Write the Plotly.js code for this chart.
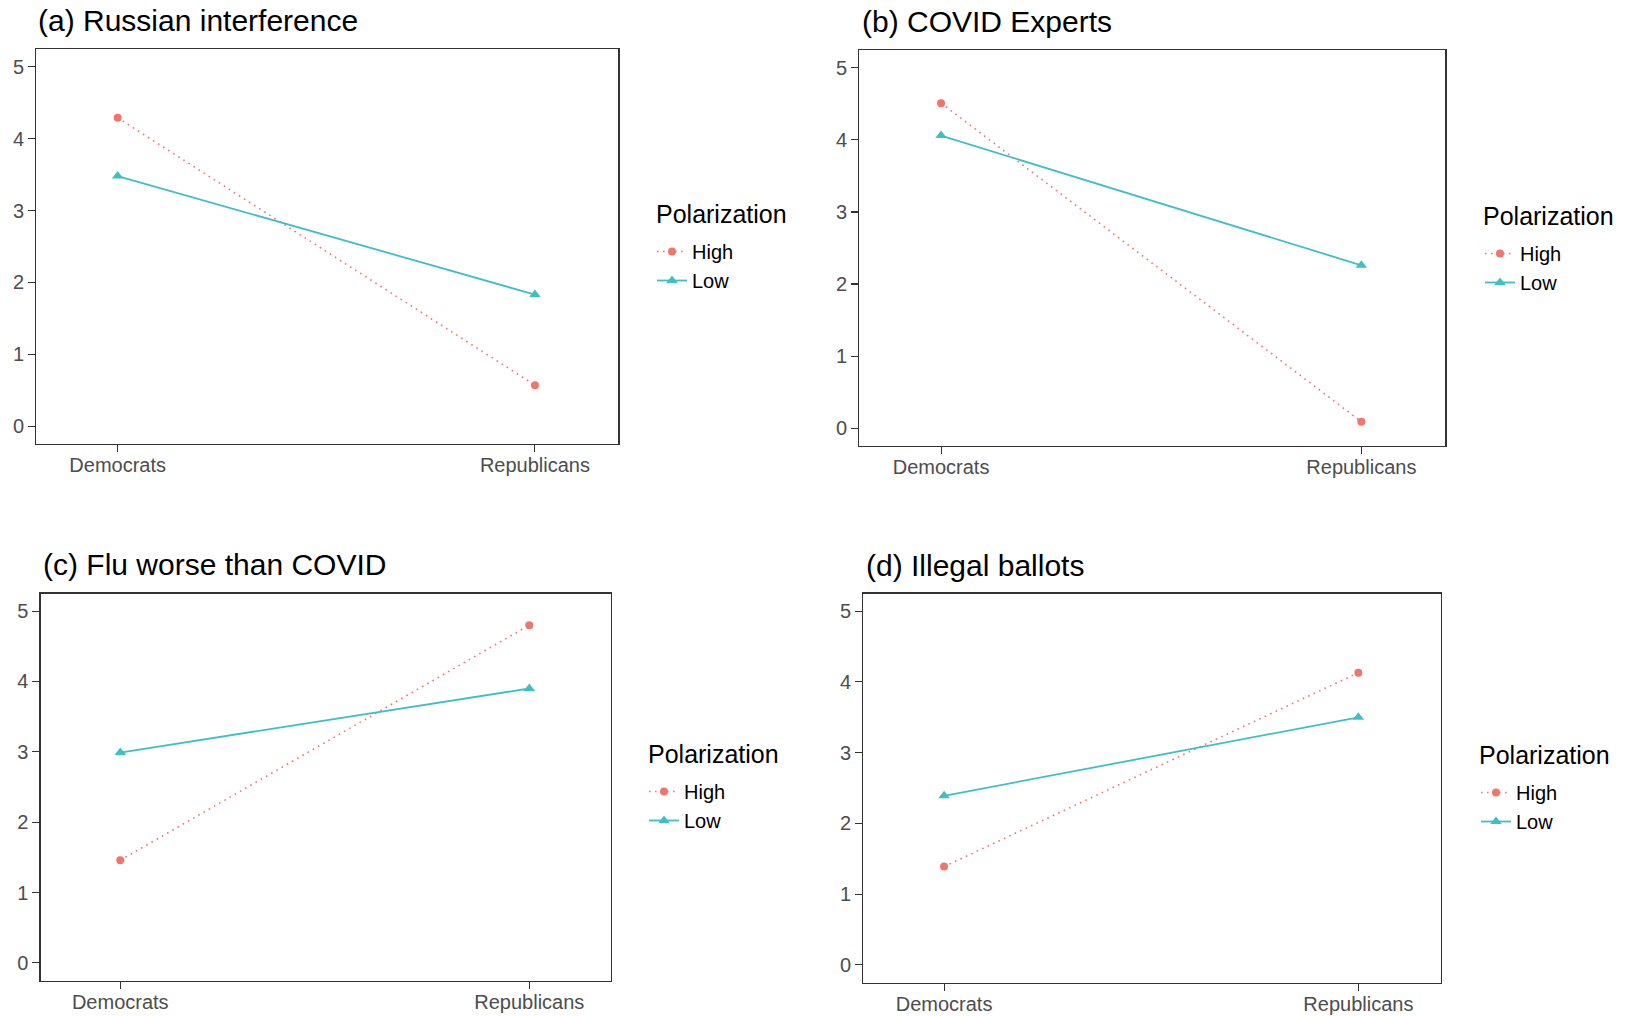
<!DOCTYPE html>
<html>
<head>
<meta charset="utf-8">
<script src="https://cdn.plot.ly/plotly-3.0.1.min.js"></script>
<style>
  html, body { margin: 0; padding: 0; background: #fff; }
  #chart { width: 1627px; height: 1016px; }
</style>
</head>
<body>
<div id="chart"></div>
<script>
// ---- Data ----
const categories = ['Democrats', 'Republicans'];
const panelTitles = ['(a) Russian interference', '(b) COVID Experts', '(c) Flu worse than COVID', '(d) Illegal ballots'];
const legendTitle = 'Polarization';
const seriesNames = ['High', 'Low'];
const yTickValues = [0, 1, 2, 3, 4, 5];

const highA = [4.29, 0.57];
const lowA  = [3.48, 1.83];
const highB = [4.51, 0.09];
const lowB  = [4.06, 2.26];
const highC = [1.46, 4.80];
const lowC  = [2.99, 3.90];
const highD = [1.39, 4.13];
const lowD  = [2.39, 3.50];

const highSets = [highA, highB, highC, highD];
const lowSets  = [lowA, lowB, lowC, lowD];

// ---- Styling / layout ----
const RED = '#F0766D';
const TEAL = '#3FBFC4';
const FONT = 'Liberation Sans, Arial, Helvetica, sans-serif';
const W = 1627, H = 1016;

// plot boxes in pixels [left, right, top, bottom]
const boxes = [
  [36.3, 618.4, 48.8, 444.1],
  [859.1, 1445.4, 49.8, 446.2],
  [40.5, 611.1, 593.5, 980.5],
  [863.3, 1441.2, 593.5, 982.6]
];
// title positions (left x, center y) px
const titlePos = [[36, 21], [860, 22], [40.5, 564.5], [864, 565.5]];
// legend title positions (left x, center y) px
const legTitlePos = [[654, 214], [1481, 216], [646, 754], [1477, 755]];
// legend positions (left x, top y) px
const legendPos = [[652, 232], [1480, 234], [644, 772], [1476, 773]];

const traces = [];
const layout = {
  width: W, height: H,
  margin: {l: 0, r: 0, t: 0, b: 0},
  paper_bgcolor: '#fff',
  plot_bgcolor: '#fff',
  font: {family: FONT, color: '#000'},
  annotations: [],
  hovermode: false
};

for (let i = 0; i < 4; i++) {
  const n = i === 0 ? '' : String(i + 1);
  const xa = 'x' + n, ya = 'y' + n;
  const lg = 'legend' + n;
  const [l, r, t, b] = boxes[i];

  traces.push({
    x: categories, y: highSets[i], name: seriesNames[0],
    xaxis: xa, yaxis: ya, legend: lg,
    type: 'scatter', mode: 'lines+markers',
    line: {color: RED, width: 1.6, dash: '1.6px,4.4px'},
    marker: {color: RED, size: 8, symbol: 'circle'}
  });
  traces.push({
    x: categories, y: lowSets[i], name: seriesNames[1],
    xaxis: xa, yaxis: ya, legend: lg,
    type: 'scatter', mode: 'lines+markers',
    line: {color: TEAL, width: 1.8},
    marker: {color: TEAL, size: 10, symbol: 'triangle-up'}
  });

  layout['xaxis' + n] = {
    domain: [l / W, r / W],
    anchor: ya,
    type: 'category',
    categoryorder: 'array', categoryarray: categories,
    range: [-0.195, 1.2],
    showgrid: false, zeroline: false,
    showline: true, mirror: true, linecolor: '#333333', linewidth: 1.1,
    ticks: 'outside', ticklen: 7, tickwidth: 1.1, tickcolor: '#333333',
    ticklabelstandoff: -4,
    tickfont: {family: FONT, size: 20, color: '#4D4D4D'},
    fixedrange: true
  };
  layout['yaxis' + n] = {
    domain: [1 - b / H, 1 - t / H],
    anchor: xa,
    range: [-0.25, 5.25],
    tickmode: 'array', tickvals: yTickValues, ticktext: yTickValues.map(String),
    showgrid: false, zeroline: false,
    showline: true, mirror: true, linecolor: '#333333', linewidth: 1.1,
    ticks: 'outside', ticklen: 7, tickwidth: 1.1, tickcolor: '#333333',
    tickfont: {family: FONT, size: 20, color: '#4D4D4D'},
    fixedrange: true
  };
  layout[lg] = {
    x: legendPos[i][0] / W, y: 1 - legendPos[i][1] / H,
    xanchor: 'left', yanchor: 'top',
    xref: 'paper', yref: 'paper',
    bgcolor: 'rgba(0,0,0,0)', borderwidth: 0,
    font: {family: FONT, size: 20, color: '#000'},
    tracegroupgap: 0, itemwidth: 30,
    traceorder: 'normal'
  };
  layout.annotations.push({
    xref: 'paper', yref: 'paper',
    x: titlePos[i][0] / W, y: 1 - titlePos[i][1] / H,
    xanchor: 'left', yanchor: 'middle',
    text: panelTitles[i], showarrow: false,
    font: {family: FONT, size: 30, color: '#000'}
  });
  layout.annotations.push({
    xref: 'paper', yref: 'paper',
    x: legTitlePos[i][0] / W, y: 1 - legTitlePos[i][1] / H,
    xanchor: 'left', yanchor: 'middle',
    text: legendTitle, showarrow: false,
    font: {family: FONT, size: 25, color: '#000'}
  });
}

Plotly.newPlot('chart', traces, layout, {displayModeBar: false, staticPlot: true});
</script>
</body>
</html>
